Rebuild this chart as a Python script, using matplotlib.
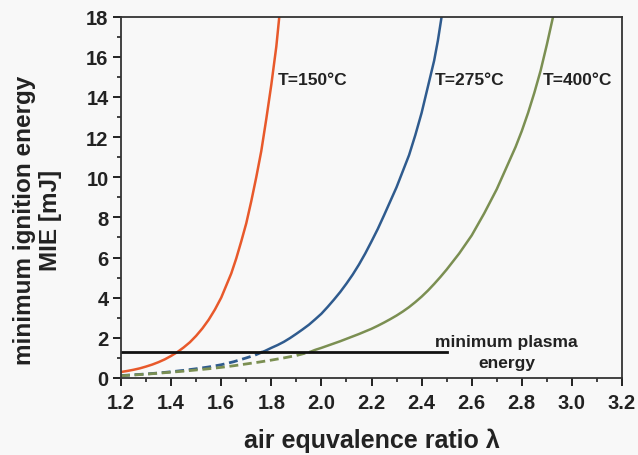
import matplotlib
matplotlib.use("Agg")
import matplotlib.pyplot as plt
from matplotlib.ticker import MultipleLocator

# values
lam_150 = [1.200, 1.225, 1.250, 1.275, 1.300, 1.325, 1.350, 1.375, 1.400, 1.425, 1.450,
           1.475, 1.500, 1.525, 1.550, 1.575, 1.600, 1.620, 1.640, 1.660, 1.680, 1.700,
           1.720, 1.740, 1.760, 1.780, 1.800, 1.820, 1.832]
mie_150 = [0.30, 0.35, 0.41, 0.48, 0.57, 0.67, 0.79, 0.93, 1.10, 1.29, 1.52,
           1.78, 2.10, 2.47, 2.90, 3.41, 4.00, 4.60, 5.20, 5.95, 6.80, 7.70,
           8.80, 10.0, 11.3, 12.9, 14.6, 16.5, 18.0]

lam_275_low = [1.20, 1.25, 1.30, 1.35, 1.40, 1.45, 1.50, 1.55, 1.60, 1.65, 1.70, 1.735, 1.765]
mie_275_low = [0.12, 0.16, 0.20, 0.25, 0.31, 0.38, 0.46, 0.55, 0.66, 0.81, 1.00, 1.14, 1.30]
lam_275 = [1.765, 1.775, 1.800, 1.825, 1.850, 1.875, 1.900, 1.925, 1.950, 1.975, 2.000,
           2.025, 2.050, 2.075, 2.100, 2.125, 2.150, 2.175, 2.200, 2.225, 2.250, 2.275,
           2.300, 2.325, 2.350, 2.375, 2.400, 2.425, 2.450, 2.465, 2.480]
mie_275 = [1.30, 1.35, 1.50, 1.64, 1.80, 1.99, 2.20, 2.42, 2.65, 2.92, 3.20,
           3.54, 3.90, 4.28, 4.70, 5.15, 5.65, 6.20, 6.80, 7.42, 8.10, 8.80,
           9.50, 10.3, 11.1, 12.1, 13.2, 14.5, 15.8, 16.8, 18.0]

lam_400_low = [1.20, 1.25, 1.30, 1.35, 1.40, 1.45, 1.50, 1.55, 1.60, 1.65, 1.70, 1.75, 1.80,
               1.85, 1.90, 1.955]
mie_400_low = [0.11, 0.15, 0.19, 0.24, 0.29, 0.34, 0.40, 0.46, 0.53, 0.61, 0.70, 0.79, 0.89,
               1.00, 1.12, 1.30]
lam_400 = [1.955, 1.975, 2.000, 2.025, 2.050, 2.075, 2.100, 2.125, 2.150, 2.175, 2.200,
           2.225, 2.250, 2.275, 2.300, 2.325, 2.350, 2.375, 2.400, 2.425, 2.450, 2.475,
           2.500, 2.525, 2.550, 2.575, 2.600, 2.625, 2.650, 2.675, 2.700, 2.725, 2.750,
           2.775, 2.800, 2.825, 2.850, 2.875, 2.900, 2.925]
mie_400 = [1.30, 1.40, 1.50, 1.61, 1.72, 1.83, 1.95, 2.07, 2.19, 2.32, 2.45,
           2.60, 2.76, 2.93, 3.11, 3.31, 3.53, 3.78, 4.05, 4.35, 4.68, 5.03,
           5.40, 5.80, 6.20, 6.65, 7.10, 7.65, 8.20, 8.80, 9.40, 10.1, 10.8,
           11.5, 12.3, 13.2, 14.2, 15.3, 16.6, 18.0]

plasma_lam = [1.2, 2.5]
plasma_mie = [1.3, 1.3]

c_orange = "#e8592b"
c_blue = "#2f5b8e"
c_green = "#7b8f52"
bg = "#f8f8f8"
ink = "#222222"

plt.rcParams["font.family"] = ["Liberation Sans", "DejaVu Sans"]
plt.rcParams["font.weight"] = "bold"

fig = plt.figure(figsize=(6.38, 4.56), dpi=100, facecolor=bg)
ax = fig.add_axes([121 / 638, 77 / 456, 501 / 638, 361.5 / 456], facecolor=bg)

dash = (0, (3.2, 1.7))
ax.plot(lam_275_low, mie_275_low, color=c_blue, lw=2.0, linestyle=dash)
ax.plot(lam_400_low, mie_400_low, color=c_green, lw=2.0, linestyle=dash)
ax.plot(lam_150, mie_150, color=c_orange, lw=1.8)
ax.plot(lam_275, mie_275, color=c_blue, lw=1.8)
ax.plot(lam_400, mie_400, color=c_green, lw=1.8)
ax.plot(plasma_lam, plasma_mie, color="#111111", lw=2.0)

txt = dict(fontsize=12.5, fontweight="bold", color=ink, va="center", ha="left")
ax.text(1.826, 14.85, "T=150°C", **txt)
ax.text(2.452, 14.85, "T=275°C", **txt)
ax.text(2.884, 14.85, "T=400°C", **txt)
ax.text(2.74, 1.3, "minimum plasma\nenergy", fontsize=12.5, fontweight="bold",
        color=ink, ha="center", va="center", linespacing=1.45)

ax.set_xlim(1.2, 3.2)
ax.set_ylim(0, 18)
ax.xaxis.set_major_locator(MultipleLocator(0.2))
ax.xaxis.set_minor_locator(MultipleLocator(0.1))
ax.yaxis.set_major_locator(MultipleLocator(2))
ax.yaxis.set_minor_locator(MultipleLocator(1))
ax.xaxis.set_major_formatter(plt.FormatStrFormatter("%.1f"))

ax.tick_params(which="major", direction="out", length=6, width=1.4, labelsize=14.5,
               colors=ink, pad=3)
ax.tick_params(which="minor", direction="out", length=3, width=1.2, colors=ink)
ax.tick_params(axis="x", which="major", pad=5)
for s in ax.spines.values():
    s.set_linewidth(1.3)
    s.set_color("#333333")

ax.set_xlabel("air equvalence ratio λ", fontsize=18, fontweight="bold", color=ink)
ax.xaxis.set_label_coords(0.5, -0.138)
ax.set_ylabel("minimum ignition energy\nMIE [mJ]", fontsize=17.5, fontweight="bold",
              color=ink, linespacing=1.15)
ax.yaxis.set_label_coords(-0.118, 0.44)

fig.savefig("out.png", dpi=100, facecolor=bg)
